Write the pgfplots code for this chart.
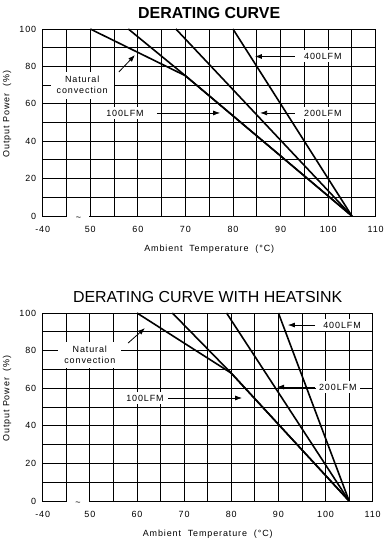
\documentclass[border=0pt]{standalone}
\usepackage{fontspec}
\setmainfont{Liberation Sans}
\newfontfamily\spf[LetterSpace=10]{Liberation Sans}
\usepackage{pgfplots}
\pgfplotsset{compat=1.18}
\usetikzlibrary{arrows.meta}

\tikzset{
  curve/.style={black, line width=1.6bp, mark=none},
  ann/.style={font=\spf\fontsize{9}{11}\selectfont, fill=white, inner sep=2bp, align=center},
  arr/.style={black, line width=0.8bp, -{Latex[length=7bp,width=5bp]}},
}
\pgfplotsset{
  dc/.style={
    scale only axis, width=333bp, height=187bp,
    xmin=40, xmax=110, ymin=0, ymax=100,
    xtick={40,50,...,110}, xticklabels={-40,50,60,70,80,90,100,110},
    minor xtick={45,55,...,105},
    ytick={0,20,...,100}, minor ytick={10,30,...,90},
    grid=both,
    major grid style={black, line width=0.9bp},
    minor grid style={black, line width=0.9bp},
    axis line style={black, line width=1bp},
    major tick length=0pt, minor tick length=0pt,
    tick label style={font=\spf\fontsize{9}{10}\selectfont},
    /pgf/number format/assume math mode=true,
    xticklabel style={yshift=-7bp},
    yticklabel style={xshift=-3bp},
    xlabel={Ambient\ \ Temperature\ \ (°C)},
    ylabel={Output Power\ \ (\%)},
    label style={font=\spf\fontsize{9}{10}\selectfont},
    xlabel style={at={(axis description cs:0.5,0)}, anchor=center, yshift=-33bp},
    ylabel style={at={(axis description cs:-0.107,0.545)}, anchor=center},
    clip=false,
  }
}

\begin{document}
\begin{tikzpicture}
\useasboundingbox (0,0) rectangle (385bp,-547bp);

% ---------- top chart ----------
\begin{axis}[dc, at={(42.7bp,-216bp)}, anchor=south west,
  title={DERATING CURVE},
  title style={font=\bfseries\fontsize{16}{18}\selectfont, yshift=1bp}]
\addplot[curve] coordinates {(50,100) (70,75) (105,0)};
\addplot[curve] coordinates {(58,100) (70,75) (105,0)};
\addplot[curve] coordinates {(68,100) (105,0)};
\addplot[curve] coordinates {(80,100) (105,0)};
\draw[white, line width=2bp] (axis cs:45.2,0) -- (axis cs:49.8,0);
\node[font=\fontsize{9}{9}\selectfont, inner sep=0pt] at (axis cs:47.5,-1.2) {\textasciitilde};
% annotations
\node[ann, inner sep=3bp] at (axis cs:98.9,85.6) {400LFM};
\draw[arr] (axis cs:93.0,85.3) -- (axis cs:84.6,85.3);
\node[ann, minimum width=63bp, minimum height=27bp] at (axis cs:48.3,70) {Natural\\convection};
\draw[arr] (axis cs:56.0,77.0) -- (axis cs:59.4,86.1);
\node[ann, inner sep=3bp] at (axis cs:57.3,55.1) {100LFM};
\draw[arr] (axis cs:64.0,55.1) -- (axis cs:77.3,55.1);
\node[ann, inner sep=3bp] at (axis cs:98.9,55.1) {200LFM};
\draw[arr] (axis cs:93.0,55.1) -- (axis cs:85.7,55.1);
\end{axis}

% ---------- bottom chart ----------
\begin{axis}[dc, width=330bp, height=188bp, at={(42.7bp,-501bp)}, anchor=south west,
  ylabel style={at={(axis description cs:-0.108,0.545)}},
  title={DERATING CURVE WITH HEATSINK},
  title style={font=\fontsize{16}{18}\selectfont, yshift=1bp}]
\addplot[curve] coordinates {(60,100) (80,68) (105,0)};
\addplot[curve] coordinates {(67.5,100) (80,68) (105,0)};
\addplot[curve] coordinates {(79,100) (105,0)};
\addplot[curve] coordinates {(90,100) (105,0)};
\draw[white, line width=2bp] (axis cs:45.2,0) -- (axis cs:49.8,0);
\node[font=\fontsize{9}{9}\selectfont, inner sep=0pt] at (axis cs:47.5,-1.2) {\textasciitilde};
% annotations
\node[ann, inner sep=3bp] at (axis cs:103.5,93.6) {400LFM};
\draw[arr] (axis cs:97.8,93.6) -- (axis cs:92.0,93.6);
\node[ann, minimum width=63bp, minimum height=26bp] at (axis cs:50.0,77.7) {Natural\\convection};
\draw[arr] (axis cs:58.1,84.0) -- (axis cs:61.7,92.0);
\node[ann, inner sep=3bp] at (axis cs:61.7,54.8) {100LFM};
\draw[arr] (axis cs:66.6,54.8) -- (axis cs:82.3,54.8);
\node[ann, inner sep=3bp] at (axis cs:102.6,60.6) {200LFM};
\draw[arr] (axis cs:97.8,60.6) -- (axis cs:89.7,60.6);
\end{axis}
\end{tikzpicture}
\end{document}
